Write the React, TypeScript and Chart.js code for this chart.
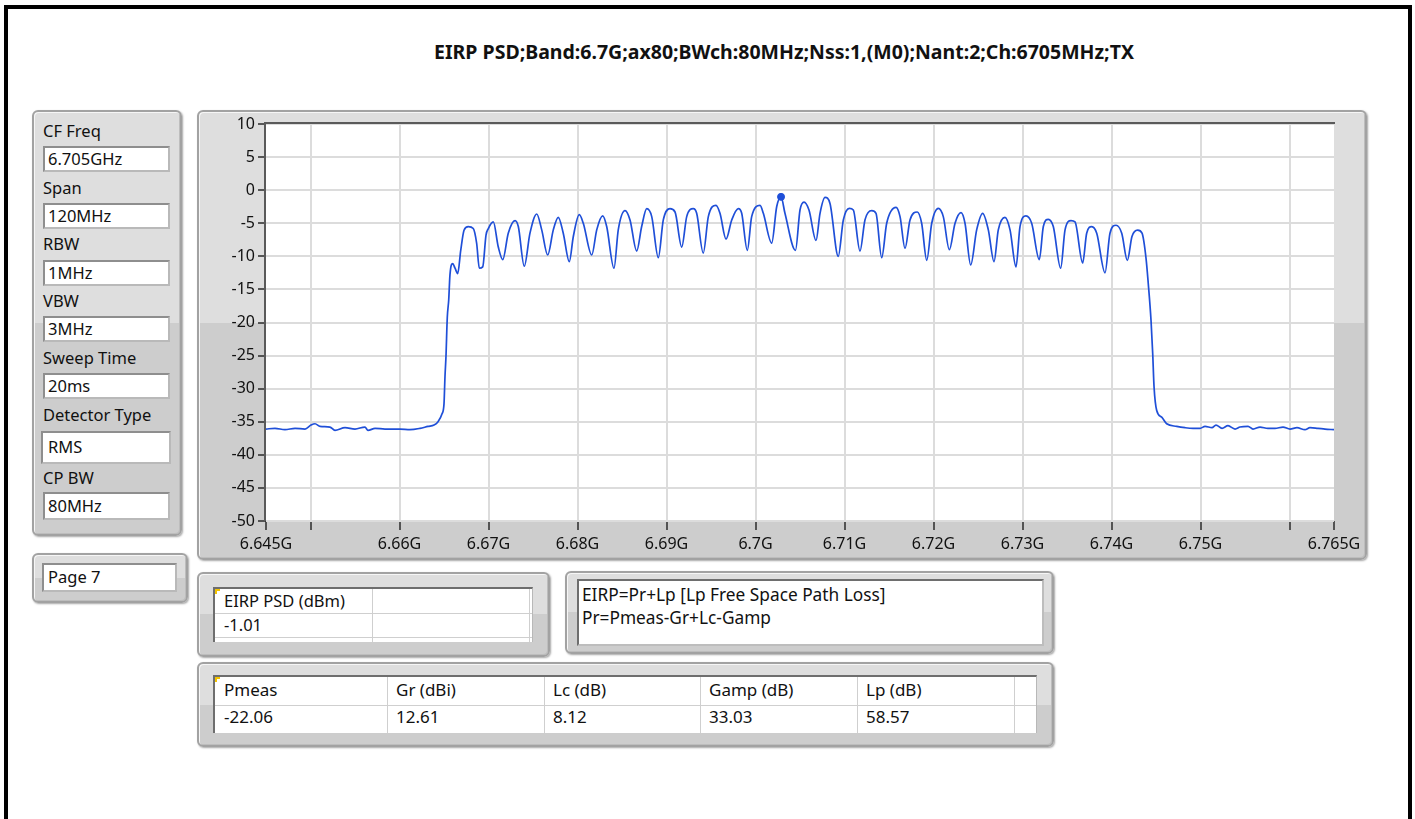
import React, { useEffect, useRef } from "react";
import { Chart, registerables } from "chart.js";

Chart.register(...registerables);

// ---------------- DATA ----------------
const TITLE = "EIRP PSD;Band:6.7G;ax80;BWch:80MHz;Nss:1,(M0);Nant:2;Ch:6705MHz;TX";

const PARAM_LABELS = ["CF Freq", "Span", "RBW", "VBW", "Sweep Time", "Detector Type", "CP BW"];
const PARAM_VALUES = ["6.705GHz", "120MHz", "1MHz", "3MHz", "20ms", "RMS", "80MHz"];
const PAGE_LABEL = "Page 7";

const EIRP_HEADER = "EIRP PSD (dBm)";
const FORMULA_LINES = ["EIRP=Pr+Lp [Lp Free Space Path Loss]", "Pr=Pmeas-Gr+Lc-Gamp"];
const BUDGET_HEADERS = ["Pmeas", "Gr (dBi)", "Lc (dB)", "Gamp (dB)", "Lp (dB)"];
const BUDGET_VALUES = ["-22.06", "12.61", "8.12", "33.03", "58.57"];

// frequency in MHz, PSD in dBm
const FREQ_MHZ = [
  6645.00, 6646.01, 6647.13, 6648.26, 6649.38, 6650.06, 6650.51, 6651.07, 6652.19, 6652.75,
  6653.88, 6655.00, 6656.12, 6656.46, 6657.25, 6658.37, 6660.06, 6661.18, 6662.30, 6663.20,
  6663.88, 6664.33, 6664.78, 6665.00, 6665.11, 6665.22, 6665.37, 6665.53, 6665.67, 6665.98,
  6666.24, 6666.54, 6666.88, 6667.25, 6667.73, 6668.29, 6668.67, 6668.97, 6669.35, 6669.72,
  6669.98, 6670.54, 6671.10, 6671.60, 6672.22, 6672.98, 6673.35, 6674.02, 6674.66, 6675.42,
  6675.98, 6676.65, 6677.28, 6677.84, 6678.40, 6679.08, 6679.53, 6680.20, 6680.65, 6681.60,
  6682.16, 6682.83, 6683.28, 6684.10, 6684.58, 6685.34, 6685.90, 6686.65, 6687.21, 6687.78,
  6688.34, 6689.08, 6689.64, 6690.39, 6690.96, 6691.71, 6692.27, 6693.01, 6693.39, 6694.13,
  6694.70, 6695.56, 6696.01, 6696.69, 6697.33, 6698.07, 6698.45, 6699.08, 6699.57, 6700.51,
  6700.88, 6701.82, 6702.38, 6702.87, 6703.31, 6704.49, 6705.00, 6705.45, 6706.01, 6706.80,
  6707.25, 6707.81, 6708.37, 6709.30, 6709.87, 6710.54, 6710.99, 6711.74, 6712.30, 6713.06,
  6713.54, 6714.18, 6714.74, 6715.79, 6716.24, 6716.80, 6717.36, 6718.18, 6718.67, 6719.24,
  6719.80, 6720.54, 6721.10, 6721.78, 6722.42, 6723.09, 6723.54, 6724.18, 6724.85, 6725.53,
  6726.16, 6726.80, 6727.28, 6728.03, 6728.60, 6729.27, 6729.72, 6730.39, 6731.03, 6731.89,
  6732.34, 6732.90, 6733.46, 6734.29, 6734.78, 6735.45, 6735.90, 6736.76, 6737.21, 6737.78,
  6738.34, 6739.27, 6739.83, 6740.51, 6741.15, 6741.78, 6742.30, 6742.94, 6743.43, 6743.88,
  6744.13, 6744.44, 6744.63, 6744.78, 6745.08, 6745.64, 6746.20, 6747.33, 6748.26, 6749.16,
  6749.94, 6750.51, 6751.29, 6751.74, 6752.42, 6753.09, 6753.88, 6754.44, 6755.34, 6755.90,
  6756.69, 6757.58, 6758.37, 6759.27, 6760.06, 6760.84, 6761.74, 6762.30, 6763.20, 6763.99,
  6765.00,
];

const PSD_DBM = [
  -36.1, -36.0, -36.2, -36.0, -36.1, -35.5, -35.3, -35.7, -35.8, -36.3,
  -35.9, -36.1, -35.8, -36.3, -36.0, -36.1, -36.1, -36.2, -36.0, -35.7,
  -35.5, -35.0, -33.8, -32.3, -28.2, -25.2, -19.2, -16.6, -12.8, -11.1,
  -11.8, -12.6, -9.1, -6.05, -5.5, -5.8, -8.05, -11.8, -11.6, -6.8,
  -5.8, -4.8, -8.6, -10.5, -6.5, -4.6, -5.5, -11.5, -6.5, -3.6,
  -6.0, -9.8, -6.0, -4.1, -6.5, -10.8, -7.0, -3.7, -5.0, -9.8,
  -6.0, -3.9, -5.5, -11.8, -6.0, -3.1, -4.5, -9.2, -5.5, -2.8,
  -4.0, -10.2, -4.5, -2.8, -3.3, -8.6, -4.0, -2.8, -3.5, -9.5,
  -4.0, -2.3, -3.5, -7.4, -4.5, -2.8, -3.5, -9.1, -4.0, -2.3,
  -3.5, -8.0, -2.5, -1.01, -3.5, -9.1, -3.0, -1.8, -3.0, -7.6,
  -3.5, -1.1, -2.0, -10.0, -4.5, -2.75, -3.0, -9.2, -4.5, -3.1,
  -3.5, -10.2, -5.0, -2.6, -4.0, -8.8, -4.5, -3.3, -5.0, -10.6,
  -5.0, -2.75, -4.0, -9.0, -5.0, -3.4, -5.0, -11.3, -6.0, -3.5,
  -6.0, -10.8, -6.0, -4.1, -6.0, -11.6, -5.5, -3.9, -5.0, -10.5,
  -5.5, -4.4, -5.5, -11.8, -6.0, -4.6, -4.8, -11.0, -6.5, -5.5,
  -6.5, -12.5, -6.5, -5.3, -6.5, -10.6, -7.0, -6.05, -6.5, -10.3,
  -14.1, -19.65, -24.7, -29.7, -33.3, -34.3, -35.3, -35.7, -35.9, -36.0,
  -36.0, -35.7, -35.9, -35.5, -36.0, -35.6, -36.1, -35.8, -35.7, -36.1,
  -35.8, -36.0, -36.0, -35.8, -36.1, -35.9, -36.2, -35.9, -36.0, -36.1,
  -36.2,
];

const MARKER_FREQ = [6702.87];
const MARKER_DBM = [-1.01];

const X_TICKS = [6645, 6650, 6660, 6670, 6680, 6690, 6700, 6710, 6720, 6730, 6740, 6750, 6760, 6765];
const X_TICK_LABELS = ["6.645G", "", "6.66G", "6.67G", "6.68G", "6.69G", "6.7G", "6.71G", "6.72G", "6.73G", "6.74G", "6.75G", "", "6.765G"];
const Y_MIN = -50;
const Y_MAX = 10;
const Y_STEP = 5;

// ---------------- STYLE ----------------
const FONT = '"Noto Sans", "DejaVu Sans", sans-serif';
const TEXT = "#111111";
const TRACE = "#1f4fd8";

const abs = (left: number, top: number, width: number, height: number): React.CSSProperties => ({
  position: "absolute",
  left,
  top,
  width,
  height,
  boxSizing: "border-box",
});

function Panel({ x, y, w, h, split }: { x: number; y: number; w: number; h: number; split?: number }) {
  const s = (split ?? 0.5) * 100;
  return (
    <div
      style={{
        ...abs(x, y, w, h),
        border: "2px solid #a2a2a2",
        borderRadius: 6,
        background: `linear-gradient(to bottom, #dedede 0%, #dedede ${s}%, #cdcdcd ${s}%, #cdcdcd 100%)`,
        boxShadow: "1px 1px 2px rgba(0,0,0,0.35), inset 1px 1px 0 #f6f6f6, inset -1px -1px 0 #bdbdbd",
      }}
    />
  );
}

function Txt({ x, cy, children, bold, size }: { x: number; cy: number; children: React.ReactNode; bold?: boolean; size?: number }) {
  return (
    <div
      style={{
        position: "absolute",
        left: x,
        top: cy - 10.5,
        font: `${bold ? "bold " : ""}${size || 16}px ${FONT}`,
        lineHeight: "20px",
        color: TEXT,
        whiteSpace: "nowrap",
      }}
    >
      {children}
    </div>
  );
}

function WhiteBox({ x, y, w, h }: { x: number; y: number; w: number; h: number }) {
  return (
    <div
      style={{
        ...abs(x, y, w, h),
        background: "#ffffff",
        border: "2px solid",
        borderColor: "#8e8e8e #b9b9b9 #b9b9b9 #8e8e8e",
      }}
    />
  );
}

function TableFrame({ x, y, w, h }: { x: number; y: number; w: number; h: number }) {
  return (
    <div
      style={{
        ...abs(x, y, w, h),
        background: "#ffffff",
        borderTop: "2px solid #6e6e6e",
        borderLeft: "2px solid #6e6e6e",
        borderRight: "1px solid #b8b8b8",
      }}
    >
      <div style={{ position: "absolute", left: 0, top: 0, width: 2, height: 5, background: "#f2c200" }} />
      <div style={{ position: "absolute", left: 0, top: 0, width: 5, height: 2, background: "#f2c200" }} />
    </div>
  );
}

const VLine = ({ x, y, h }: { x: number; y: number; h: number }) => (
  <div style={{ position: "absolute", left: x, top: y, width: 1, height: h, background: "#cfcfcf" }} />
);
const HLine = ({ x, y, w }: { x: number; y: number; w: number }) => (
  <div style={{ position: "absolute", left: x, top: y, width: w, height: 1, background: "#cfcfcf" }} />
);

// ---------------- CHART ----------------
const CANVAS_X = 197;
const CANVAS_Y = 110;
const CANVAS_W = 1170;
const CANVAS_H = 450;

function SpectrumChart() {
  const ref = useRef<HTMLCanvasElement | null>(null);

  useEffect(() => {
    if (!ref.current) return;
    const plotFrame = {
      id: "plotFrame",
      beforeDraw(chart: any) {
        const { ctx, chartArea } = chart;
        const { left, top, right, bottom } = chartArea;
        ctx.save();
        ctx.fillStyle = "#ffffff";
        ctx.fillRect(left, top, right - left, bottom - top);
        ctx.restore();
      },
      beforeDatasetsDraw(chart: any) {
        const { ctx, chartArea } = chart;
        const { left, top, right, bottom } = chartArea;
        ctx.save();
        ctx.strokeStyle = "#5a5a5a";
        ctx.lineWidth = 2;
        ctx.beginPath();
        ctx.moveTo(left - 1, bottom);
        ctx.lineTo(left - 1, top - 1);
        ctx.lineTo(right + 1, top - 1);
        ctx.stroke();
        ctx.restore();
      },
    };

    const tickFont = { family: FONT, size: 16 };

    const chart = new Chart(ref.current, {
      type: "line",
      data: {
        datasets: [
          {
            data: FREQ_MHZ.map((f, i) => ({ x: f, y: PSD_DBM[i] })),
            borderColor: TRACE,
            borderWidth: 1.7,
            pointRadius: 0,
            fill: false,
            cubicInterpolationMode: "monotone",
          },
          {
            type: "scatter",
            data: MARKER_FREQ.map((f, i) => ({ x: f, y: MARKER_DBM[i] })),
            pointRadius: 3.5,
            pointBackgroundColor: TRACE,
            pointBorderColor: TRACE,
            showLine: false,
          } as any,
        ],
      },
      options: {
        animation: false,
        responsive: false,
        maintainAspectRatio: false,
        layout: { padding: { left: 0, top: 14, right: 33, bottom: 0 } },
        plugins: { legend: { display: false }, tooltip: { enabled: false }, title: { display: false } },
        scales: {
          x: {
            type: "linear",
            min: 6645,
            max: 6765,
            afterBuildTicks: (s: any) => {
              s.ticks = X_TICKS.map((v) => ({ value: v }));
            },
            afterFit: (s: any) => {
              s.height = 39;
            },
            ticks: {
              autoSkip: false,
              maxRotation: 0,
              minRotation: 0,
              padding: 5,
              color: TEXT,
              font: tickFont,
              callback: (_v: any, i: number) => X_TICK_LABELS[i],
            },
            grid: {
              color: (c: any) =>
                c.tick && (c.tick.value === X_TICKS[0] || c.tick.value === X_TICKS[X_TICKS.length - 1])
                  ? "rgba(0,0,0,0)"
                  : "#dcdcdc",
              lineWidth: 2,
              tickColor: "#2a2a2a",
              tickWidth: 1.5,
              tickLength: 9,
              drawTicks: true,
            },
            border: { display: false },
          },
          y: {
            type: "linear",
            min: Y_MIN,
            max: Y_MAX,
            afterFit: (s: any) => {
              s.width = 69;
            },
            ticks: {
              stepSize: Y_STEP,
              padding: 3,
              color: TEXT,
              font: tickFont,
              callback: (v: any) => String(v),
            },
            grid: {
              color: "#dcdcdc",
              lineWidth: 2,
              tickColor: "#2a2a2a",
              tickWidth: 1.5,
              tickLength: 8,
              drawTicks: true,
            },
            border: { display: false },
          },
        },
      } as any,
      plugins: [plotFrame],
    });
    return () => chart.destroy();
  }, []);

  return (
    <canvas
      ref={ref}
      width={CANVAS_W}
      height={CANVAS_H}
      style={{ position: "absolute", left: CANVAS_X, top: CANVAS_Y, width: CANVAS_W, height: CANVAS_H }}
    />
  );
}

// ---------------- LAYOUT ----------------
const LABEL_CY = [131, 188, 244, 301, 358, 415, 478];
const BOX_TOP = [146, 203, 260, 316, 373, 431, 492];
const BOX_H = [26, 26, 26, 26, 26, 33, 28];
const BUDGET_COL_X = [213, 387, 544, 700, 857];

export default function App() {
  useEffect(() => {
    document.body.style.margin = "0";
  }, []);

  return (
    <div style={{ position: "fixed", left: 0, top: 0, width: 1415, height: 819, background: "#ffffff", overflow: "hidden" }}>
      {/* page frame */}
      <div style={{ ...abs(4, 5, 1408, 900), border: "4px solid #000000" }} />

      {/* title */}
      <div
        style={{
          position: "absolute",
          left: 784,
          top: 40,
          transform: "translateX(-50%)",
          font: `bold 19.5px ${FONT}`,
          lineHeight: "24px",
          color: TEXT,
          whiteSpace: "nowrap",
        }}
      >
        {TITLE}
      </div>

      {/* parameter panel */}
      <Panel x={32} y={110} w={150} h={426} />
      {PARAM_LABELS.map((lab, i) => (
        <React.Fragment key={lab}>
          <Txt x={43} cy={LABEL_CY[i]} size={16.5}>{lab}</Txt>
          <WhiteBox x={i === 5 ? 41 : 43} y={BOX_TOP[i]} w={i === 5 ? 130 : 127} h={BOX_H[i]} />
          <Txt x={48} cy={BOX_TOP[i] + BOX_H[i] / 2} size={16.5}>{PARAM_VALUES[i]}</Txt>
        </React.Fragment>
      ))}

      {/* page panel */}
      <Panel x={32} y={553} w={156} h={50} />
      <WhiteBox x={42} y={563} w={135} h={29} />
      <Txt x={48} cy={577} size={16.5}>{PAGE_LABEL}</Txt>

      {/* chart panel */}
      <Panel x={197} y={110} w={1170} h={450} split={213 / 450} />
      <SpectrumChart />

      {/* EIRP PSD panel */}
      <Panel x={197} y={572} w={353} h={85} />
      <TableFrame x={213} y={587} w={320} h={55} />
      <VLine x={372} y={589} h={53} />
      <VLine x={529} y={589} h={53} />
      <HLine x={215} y={613} w={317} />
      <HLine x={215} y={637} w={317} />
      <Txt x={224} cy={601} size={16.5}>{EIRP_HEADER}</Txt>
      <Txt x={224} cy={625} size={16.5}>{MARKER_DBM[0].toFixed(2)}</Txt>

      {/* formula panel */}
      <Panel x={565} y={571} w={489} h={83} />
      <div
        style={{
          ...abs(577, 579, 467, 67),
          background: "#ffffff",
          border: "2px solid",
          borderColor: "#6e6e6e #bdbdbd #bdbdbd #6e6e6e",
        }}
      />
      <Txt x={582} cy={595} size={17.3}>{FORMULA_LINES[0]}</Txt>
      <Txt x={582} cy={618} size={17.3}>{FORMULA_LINES[1]}</Txt>

      {/* link budget panel */}
      <Panel x={197} y={662} w={857} h={85} />
      <TableFrame x={213} y={675} w={824} h={58} />
      {[387, 544, 700, 857, 1014].map((x) => (
        <VLine key={x} x={x} y={677} h={56} />
      ))}
      <HLine x={215} y={705} w={821} />
      {BUDGET_HEADERS.map((h, i) => (
        <React.Fragment key={h}>
          <Txt x={BUDGET_COL_X[i] + (i === 0 ? 11 : 9)} cy={690} size={17}>{h}</Txt>
          <Txt x={BUDGET_COL_X[i] + (i === 0 ? 11 : 9)} cy={717} size={17}>{BUDGET_VALUES[i]}</Txt>
        </React.Fragment>
      ))}
    </div>
  );
}
